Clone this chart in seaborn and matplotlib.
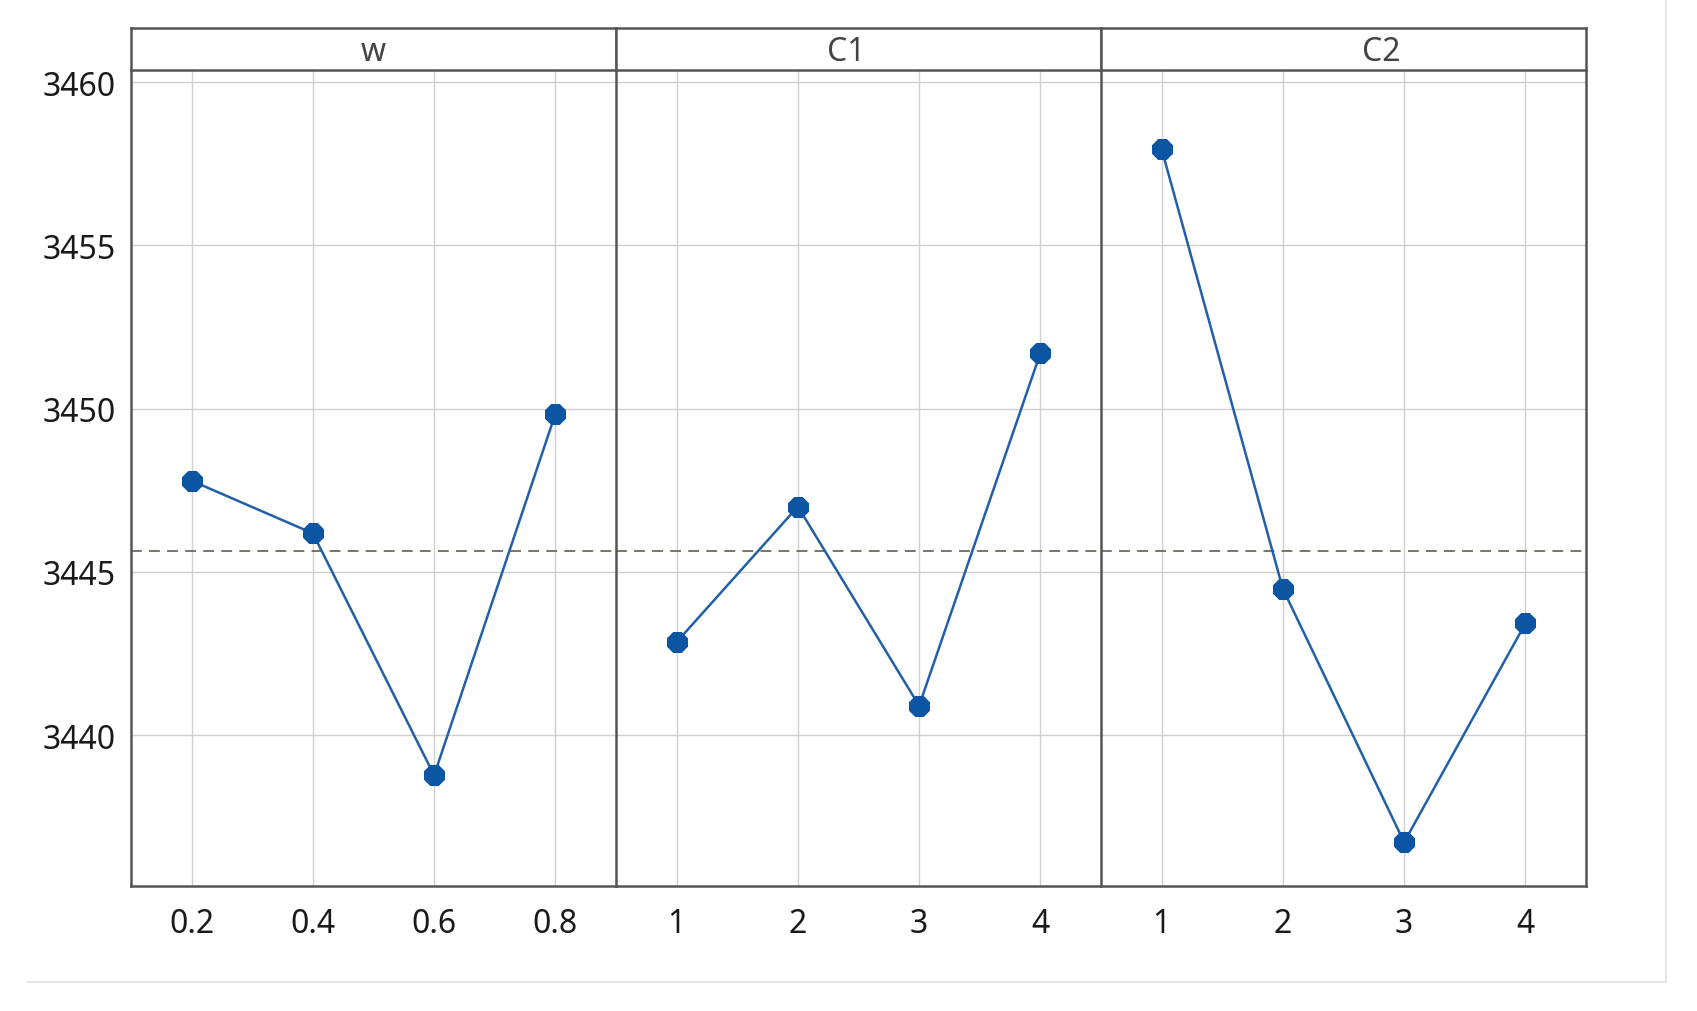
import numpy as np
import pandas as pd
import matplotlib.pyplot as plt
from matplotlib.lines import Line2D
import seaborn as sns

# valeurs (moyennes par niveau)
factors = ["w", "C1", "C2"]
w_levels = [0.2, 0.4, 0.6, 0.8]
w_means = [3447.79, 3446.18, 3438.77, 3449.84]
c1_levels = [1, 2, 3, 4]
c1_means = [3442.85, 3447.00, 3440.90, 3451.70]
c2_levels = [1, 2, 3, 4]
c2_means = [3457.95, 3444.48, 3436.72, 3443.42]
y_ticks = [3440, 3445, 3450, 3455, 3460]

levels = [w_levels, c1_levels, c2_levels]
means = [w_means, c1_means, c2_means]
grand_mean = np.mean(w_means + c1_means + c2_means)

sns.set_style("white")
plt.rcParams['font.family'] = ['Noto Sans', 'DejaVu Sans']

frame_col = "#555555"
grid_col = "#cfcfcf"
line_col = "#2160a8"
dot_col = "#0b55a3"

fig = plt.figure(figsize=(16.97, 10.12), dpi=100)

left = 131 / 1697
pw = 485 / 1697
bottom = 1 - 887 / 1012
ph = (887 - 71) / 1012
strip_h = 42 / 1012
# position du titre dans le bandeau (pas tout à fait centré sur l'original)
title_x = [0.5, 0.475, 0.578]

axes = []
for i, (name, lv, mv) in enumerate(zip(factors, levels, means)):
    ax = fig.add_axes([left + i * pw, bottom, pw, ph])
    df = pd.DataFrame({"level": lv, "mean": mv})
    sns.lineplot(data=df, x="level", y="mean", ax=ax, color=line_col,
                 linewidth=1.8, marker="8", markersize=15,
                 markerfacecolor=dot_col, markeredgecolor=dot_col, zorder=3)
    ax.axhline(grand_mean, color="#6b6b60", linestyle=(0, (6, 4)),
               linewidth=1.3, zorder=2)
    step = lv[1] - lv[0]
    ax.set_xlim(lv[0] - step / 2, lv[-1] + step / 2)
    ax.set_ylim(3435.38, 3460.37)
    ax.set_xticks(lv)
    ax.set_xticklabels([f"{v:g}" for v in lv])
    ax.set_yticks(y_ticks)
    ax.grid(True, color=grid_col, linewidth=1.0)
    ax.set_axisbelow(True)
    ax.set_xlabel("")
    ax.set_ylabel("")
    ax.tick_params(axis="x", length=7, width=1, color=frame_col,
                   labelsize=23, labelcolor="#1a1a1a", pad=8)
    if i == 0:
        ax.tick_params(axis="y", length=7, width=1, color=frame_col,
                       labelsize=23, labelcolor="#1a1a1a", pad=4)
    else:
        ax.tick_params(axis="y", left=False, labelleft=False)
    for s in ["left", "bottom", "right"]:
        ax.spines[s].set_color(frame_col)
        ax.spines[s].set_linewidth(1.8)
    ax.spines["top"].set_visible(False)
    if i < 2:
        ax.spines["right"].set_visible(False)
    axes.append(ax)

    # bandeau du titre
    sx = fig.add_axes([left + i * pw, bottom + ph, pw, strip_h])
    sx.set_xticks([])
    sx.set_yticks([])
    for s in sx.spines.values():
        s.set_color(frame_col)
        s.set_linewidth(1.8)
    sx.text(title_x[i], 0.45, name, ha="center", va="center", fontsize=23,
            color="#444444", transform=sx.transAxes)

# cadre clair autour de l'image
fig.add_artist(Line2D([27 / 1697, 1666 / 1697], [1 - 983 / 1012] * 2,
                      color="#e2e2e2", linewidth=1.2))
fig.add_artist(Line2D([1666 / 1697] * 2, [1 - 983 / 1012, 1.0],
                      color="#e2e2e2", linewidth=1.2))

fig.savefig("out.png", dpi=100)
